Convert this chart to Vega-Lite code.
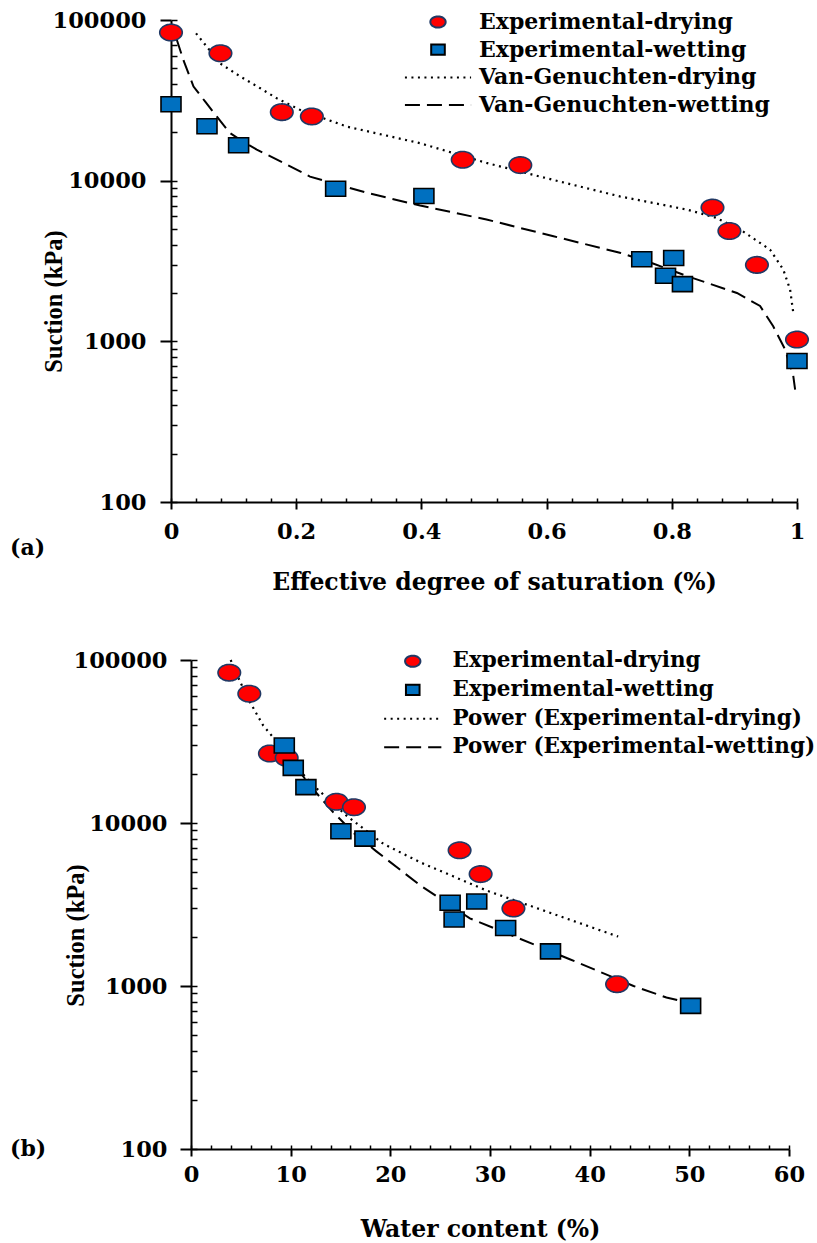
{
  "$schema": "https://vega.github.io/schema/vega-lite/v6.json",
  "background": "white",
  "padding": {"left": 10, "top": 9, "right": 0, "bottom": 0},
  "spacing": 55,
  "config": {
    "view": {"stroke": null},
    "axis": {
      "labelFont": "DejaVu Serif", "labelFontWeight": "bold", "labelFontSize": 22.5, "labelColor": "black",
      "titleFont": "DejaVu Serif", "titleFontWeight": "bold", "titleFontSize": 23.5, "titleColor": "black",
      "domainColor": "black", "domainWidth": 2, "tickColor": "black", "tickWidth": 2, "grid": false,
      "labelFlush": false, "labelOverlap": false
    },
    "legend": {
      "labelFont": "DejaVu Serif", "labelFontWeight": "bold", "labelFontSize": 22, "labelColor": "black",
      "labelLimit": 600, "symbolSize": 150, "symbolStrokeWidth": 2, "padding": 0, "rowPadding": 5.7
    }
  },
  "datasets": {
    "A": [
      {"series": "Experimental-drying", "x": 0, "y": 83600},
      {"series": "Experimental-drying", "x": 0.079, "y": 62100},
      {"series": "Experimental-drying", "x": 0.177, "y": 26700},
      {"series": "Experimental-drying", "x": 0.225, "y": 25100},
      {"series": "Experimental-drying", "x": 0.466, "y": 13500},
      {"series": "Experimental-drying", "x": 0.558, "y": 12500},
      {"series": "Experimental-drying", "x": 0.865, "y": 6800},
      {"series": "Experimental-drying", "x": 0.892, "y": 4860},
      {"series": "Experimental-drying", "x": 0.936, "y": 2990},
      {"series": "Experimental-drying", "x": 1.0, "y": 1026},
      {"series": "Experimental-wetting", "x": 0, "y": 29900},
      {"series": "Experimental-wetting", "x": 0.0575, "y": 21800},
      {"series": "Experimental-wetting", "x": 0.108, "y": 16600},
      {"series": "Experimental-wetting", "x": 0.263, "y": 8900},
      {"series": "Experimental-wetting", "x": 0.404, "y": 8020},
      {"series": "Experimental-wetting", "x": 0.752, "y": 3240},
      {"series": "Experimental-wetting", "x": 0.803, "y": 3300},
      {"series": "Experimental-wetting", "x": 0.79, "y": 2560},
      {"series": "Experimental-wetting", "x": 0.817, "y": 2270},
      {"series": "Experimental-wetting", "x": 1.0, "y": 755},
      {"series": "Van-Genuchten-drying", "x": 0.04, "y": 82600},
      {"series": "Van-Genuchten-drying", "x": 0.058, "y": 67600},
      {"series": "Van-Genuchten-drying", "x": 0.078, "y": 53800},
      {"series": "Van-Genuchten-drying", "x": 0.11, "y": 44700},
      {"series": "Van-Genuchten-drying", "x": 0.142, "y": 37700},
      {"series": "Van-Genuchten-drying", "x": 0.17, "y": 32400},
      {"series": "Van-Genuchten-drying", "x": 0.206, "y": 27600},
      {"series": "Van-Genuchten-drying", "x": 0.281, "y": 21700},
      {"series": "Van-Genuchten-drying", "x": 0.398, "y": 17100},
      {"series": "Van-Genuchten-drying", "x": 0.504, "y": 12900},
      {"series": "Van-Genuchten-drying", "x": 0.611, "y": 10100},
      {"series": "Van-Genuchten-drying", "x": 0.717, "y": 7980},
      {"series": "Van-Genuchten-drying", "x": 0.824, "y": 6610},
      {"series": "Van-Genuchten-drying", "x": 0.87, "y": 5890},
      {"series": "Van-Genuchten-drying", "x": 0.909, "y": 4970},
      {"series": "Van-Genuchten-drying", "x": 0.957, "y": 3720},
      {"series": "Van-Genuchten-drying", "x": 0.978, "y": 2800},
      {"series": "Van-Genuchten-drying", "x": 0.989, "y": 2100},
      {"series": "Van-Genuchten-drying", "x": 0.994, "y": 1510},
      {"series": "Van-Genuchten-wetting", "x": 0.009, "y": 75900},
      {"series": "Van-Genuchten-wetting", "x": 0.02, "y": 56000},
      {"series": "Van-Genuchten-wetting", "x": 0.036, "y": 38500},
      {"series": "Van-Genuchten-wetting", "x": 0.055, "y": 30900},
      {"series": "Van-Genuchten-wetting", "x": 0.073, "y": 25100},
      {"series": "Van-Genuchten-wetting", "x": 0.094, "y": 19800},
      {"series": "Van-Genuchten-wetting", "x": 0.115, "y": 17500},
      {"series": "Van-Genuchten-wetting", "x": 0.137, "y": 15600},
      {"series": "Van-Genuchten-wetting", "x": 0.18, "y": 12900},
      {"series": "Van-Genuchten-wetting", "x": 0.222, "y": 10600},
      {"series": "Van-Genuchten-wetting", "x": 0.313, "y": 8400},
      {"series": "Van-Genuchten-wetting", "x": 0.398, "y": 7000},
      {"series": "Van-Genuchten-wetting", "x": 0.504, "y": 5730},
      {"series": "Van-Genuchten-wetting", "x": 0.611, "y": 4510},
      {"series": "Van-Genuchten-wetting", "x": 0.717, "y": 3560},
      {"series": "Van-Genuchten-wetting", "x": 0.77, "y": 3050},
      {"series": "Van-Genuchten-wetting", "x": 0.824, "y": 2550},
      {"series": "Van-Genuchten-wetting", "x": 0.904, "y": 2000},
      {"series": "Van-Genuchten-wetting", "x": 0.941, "y": 1660},
      {"series": "Van-Genuchten-wetting", "x": 0.962, "y": 1240},
      {"series": "Van-Genuchten-wetting", "x": 0.981, "y": 890},
      {"series": "Van-Genuchten-wetting", "x": 0.994, "y": 610},
      {"series": "Van-Genuchten-wetting", "x": 0.997, "y": 500}
    ],
    "B": [
      {"series": "Experimental-drying", "x": 3.84, "y": 83600},
      {"series": "Experimental-drying", "x": 5.85, "y": 62100},
      {"series": "Experimental-drying", "x": 7.92, "y": 26700},
      {"series": "Experimental-drying", "x": 9.6, "y": 25100},
      {"series": "Experimental-drying", "x": 14.6, "y": 13500},
      {"series": "Experimental-drying", "x": 16.35, "y": 12500},
      {"series": "Experimental-drying", "x": 26.95, "y": 6800},
      {"series": "Experimental-drying", "x": 29.06, "y": 4860},
      {"series": "Experimental-drying", "x": 32.35, "y": 2990},
      {"series": "Experimental-drying", "x": 42.75, "y": 1026},
      {"series": "Experimental-wetting", "x": 9.36, "y": 29900},
      {"series": "Experimental-wetting", "x": 10.26, "y": 21800},
      {"series": "Experimental-wetting", "x": 11.53, "y": 16600},
      {"series": "Experimental-wetting", "x": 15.04, "y": 8900},
      {"series": "Experimental-wetting", "x": 17.45, "y": 8020},
      {"series": "Experimental-wetting", "x": 26.0, "y": 3240},
      {"series": "Experimental-wetting", "x": 28.67, "y": 3300},
      {"series": "Experimental-wetting", "x": 26.4, "y": 2560},
      {"series": "Experimental-wetting", "x": 31.57, "y": 2270},
      {"series": "Experimental-wetting", "x": 36.07, "y": 1630},
      {"series": "Experimental-wetting", "x": 50.13, "y": 755},
      {"series": "Power (Experimental-drying)", "x": 3.98, "y": 100000},
      {"series": "Power (Experimental-drying)", "x": 5.0, "y": 72000},
      {"series": "Power (Experimental-drying)", "x": 5.92, "y": 55100},
      {"series": "Power (Experimental-drying)", "x": 7.25, "y": 39600},
      {"series": "Power (Experimental-drying)", "x": 8.93, "y": 29900},
      {"series": "Power (Experimental-drying)", "x": 10.5, "y": 22400},
      {"series": "Power (Experimental-drying)", "x": 12.27, "y": 17000},
      {"series": "Power (Experimental-drying)", "x": 15.6, "y": 11100},
      {"series": "Power (Experimental-drying)", "x": 19.3, "y": 7450},
      {"series": "Power (Experimental-drying)", "x": 22.97, "y": 5750},
      {"series": "Power (Experimental-drying)", "x": 26.3, "y": 4710},
      {"series": "Power (Experimental-drying)", "x": 29.66, "y": 3850},
      {"series": "Power (Experimental-drying)", "x": 36.34, "y": 2770},
      {"series": "Power (Experimental-drying)", "x": 42.86, "y": 2010},
      {"series": "Power (Experimental-wetting)", "x": 9.3, "y": 28500},
      {"series": "Power (Experimental-wetting)", "x": 9.93, "y": 24800},
      {"series": "Power (Experimental-wetting)", "x": 12.0, "y": 16800},
      {"series": "Power (Experimental-wetting)", "x": 14.27, "y": 11640},
      {"series": "Power (Experimental-wetting)", "x": 16.4, "y": 8600},
      {"series": "Power (Experimental-wetting)", "x": 18.6, "y": 6700},
      {"series": "Power (Experimental-wetting)", "x": 23.0, "y": 4140},
      {"series": "Power (Experimental-wetting)", "x": 27.98, "y": 2600},
      {"series": "Power (Experimental-wetting)", "x": 33.0, "y": 1950},
      {"series": "Power (Experimental-wetting)", "x": 38.0, "y": 1460},
      {"series": "Power (Experimental-wetting)", "x": 42.36, "y": 1130},
      {"series": "Power (Experimental-wetting)", "x": 44.4, "y": 1000},
      {"series": "Power (Experimental-wetting)", "x": 47.7, "y": 850},
      {"series": "Power (Experimental-wetting)", "x": 50.07, "y": 785}
    ]
  },
  "resolve": {
    "scale": {"shape": "independent", "fill": "independent", "stroke": "independent", "strokeDash": "independent"},
    "legend": {"shape": "independent", "fill": "independent", "stroke": "independent", "strokeDash": "independent"}
  },
  "vconcat": [
    {
      "width": 606,
      "height": 482,
      "data": {"name": "A"},
      "resolve": {"axis": {"x": "independent", "y": "independent"}},
      "layer": [
        {
          "transform": [{"filter": {"field": "series", "equal": "Van-Genuchten-drying"}}],
          "mark": {"type": "line", "stroke": "black", "strokeWidth": 2.2, "strokeDash": [2, 4.5]},
          "encoding": {
            "x": {"field": "x", "type": "quantitative", "scale": {"domain": [0, 1], "range": [-20, 606], "nice": false, "zero": false},
              "axis": {"orient": "bottom", "values": [0,0.04,0.08,0.12,0.16,0.2,0.24,0.28,0.32,0.36,0.4,0.44,0.48,0.52,0.56,0.6,0.64,0.68,0.72,0.76,0.8,0.84,0.88,0.92,0.96,1], "tickSize": -4, "tickWidth": 1.5, "labels": false, "domain": false, "title": null}},
            "y": {"field": "y", "type": "quantitative", "scale": {"type": "log", "domain": [100, 100000], "nice": false},
              "axis": {"orient": "left", "offset": 20, "values": [100,200,300,400,500,600,700,800,900,1000,2000,3000,4000,5000,6000,7000,8000,9000,10000,20000,30000,40000,50000,60000,70000,80000,90000,100000], "tickSize": -6, "tickWidth": 1.5, "labels": false, "domain": false, "title": null}}
          }
        },
        {
          "transform": [{"filter": {"field": "series", "equal": "Van-Genuchten-wetting"}}],
          "mark": {"type": "line", "stroke": "black", "strokeWidth": 2, "strokeDash": [15, 7]},
          "encoding": {
            "x": {"field": "x", "type": "quantitative", "scale": {"domain": [0, 1], "range": [-20, 606], "nice": false, "zero": false}, "axis": null},
            "y": {"field": "y", "type": "quantitative", "scale": {"type": "log", "domain": [100, 100000], "nice": false}, "axis": null}
          }
        },
        {
          "transform": [{"filter": {"field": "series", "oneOf": ["Experimental-drying", "Experimental-wetting"]}}],
          "mark": {"type": "point", "size": 324, "opacity": 1, "fillOpacity": 1, "strokeWidth": 1.6},
          "encoding": {
            "x": {"field": "x", "type": "quantitative", "scale": {"domain": [0, 1], "range": [-20, 606], "nice": false, "zero": false},
              "axis": {"orient": "bottom", "values": [0, 0.2, 0.4, 0.6, 0.8, 1], "format": "~g", "tickSize": 7, "labelPadding": 11, "title": "Effective degree of saturation (%)", "titlePadding": 28, "titleX": 303}},
            "y": {"field": "y", "type": "quantitative", "scale": {"type": "log", "domain": [100, 100000], "nice": false},
              "axis": {"orient": "left", "offset": 20, "values": [100, 1000, 10000, 100000], "format": "d", "tickSize": 11, "labelPadding": 14, "title": "Suction (kPa)", "titleFont": "Liberation Serif", "titleFontSize": 24.5, "titleX": -105, "titleY": 281}},
            "shape": {"field": "series", "type": "nominal",
              "scale": {"domain": ["Experimental-drying", "Experimental-wetting", "Van-Genuchten-drying", "Van-Genuchten-wetting"],
                "range": ["M-1.25,0A1.25,0.917,0,1,1,1.25,0A1.25,0.917,0,1,1,-1.25,0Z", "M-1.111,-0.833L1.111,-0.833L1.111,0.833L-1.111,0.833Z", "M-5.4,0L5.4,0", "M-5.4,0L5.4,0"]},
              "legend": {"title": null, "orient": "none", "legendX": 236, "legendY": -9, "labelOffset": 30}},
            "fill": {"field": "series", "type": "nominal",
              "scale": {"domain": ["Experimental-drying", "Experimental-wetting", "Van-Genuchten-drying", "Van-Genuchten-wetting"],
                "range": ["#ff0000", "#0070c0", "rgba(0,0,0,0)", "rgba(0,0,0,0)"]},
              "legend": {"title": null, "orient": "none", "legendX": 236, "legendY": -9, "labelOffset": 30}},
            "stroke": {"field": "series", "type": "nominal",
              "scale": {"domain": ["Experimental-drying", "Experimental-wetting", "Van-Genuchten-drying", "Van-Genuchten-wetting"],
                "range": ["#203864", "#000000", "#000000", "#000000"]},
              "legend": {"title": null, "orient": "none", "legendX": 236, "legendY": -9, "labelOffset": 30}},
            "strokeDash": {"field": "series", "type": "nominal",
              "scale": {"domain": ["Experimental-drying", "Experimental-wetting", "Van-Genuchten-drying", "Van-Genuchten-wetting"],
                "range": [[1, 0], [1, 0], [2, 4.5], [15, 7]]},
              "legend": {"title": null, "orient": "none", "legendX": 236, "legendY": -9, "labelOffset": 30}}
          }
        },
        {
          "data": {"values": [{"lab": "(a)", "x": -0.257, "y": 52}]},
          "mark": {"type": "text", "align": "left", "baseline": "middle", "font": "DejaVu Serif", "fontWeight": "bold", "fontSize": 22, "color": "black"},
          "encoding": {
            "x": {"field": "x", "type": "quantitative", "scale": {"domain": [0, 1], "range": [-20, 606], "nice": false, "zero": false}, "axis": null},
            "y": {"field": "y", "type": "quantitative", "scale": {"type": "log", "domain": [100, 100000], "nice": false}, "axis": null},
            "text": {"field": "lab"}
          }
        }
      ]
    },
    {
      "width": 598,
      "height": 489,
      "data": {"name": "B"},
      "resolve": {"axis": {"x": "independent", "y": "independent"}},
      "layer": [
        {
          "transform": [{"filter": {"field": "series", "equal": "Power (Experimental-drying)"}}],
          "mark": {"type": "line", "stroke": "black", "strokeWidth": 2.2, "strokeDash": [2, 4.5]},
          "encoding": {
            "x": {"field": "x", "type": "quantitative", "scale": {"domain": [0, 60], "nice": false, "zero": false},
              "axis": {"orient": "bottom", "values": [0,2,4,6,8,10,12,14,16,18,20,22,24,26,28,30,32,34,36,38,40,42,44,46,48,50,52,54,56,58,60], "tickSize": -4, "tickWidth": 1.5, "labels": false, "domain": false, "title": null}},
            "y": {"field": "y", "type": "quantitative", "scale": {"type": "log", "domain": [100, 100000], "nice": false},
              "axis": {"orient": "left", "values": [100,200,300,400,500,600,700,800,900,1000,2000,3000,4000,5000,6000,7000,8000,9000,10000,20000,30000,40000,50000,60000,70000,80000,90000,100000], "tickSize": -6, "tickWidth": 1.5, "labels": false, "domain": false, "title": null}}
          }
        },
        {
          "transform": [{"filter": {"field": "series", "equal": "Power (Experimental-wetting)"}}],
          "mark": {"type": "line", "stroke": "black", "strokeWidth": 2, "strokeDash": [15, 7]},
          "encoding": {
            "x": {"field": "x", "type": "quantitative", "scale": {"domain": [0, 60], "nice": false, "zero": false}, "axis": null},
            "y": {"field": "y", "type": "quantitative", "scale": {"type": "log", "domain": [100, 100000], "nice": false}, "axis": null}
          }
        },
        {
          "transform": [{"filter": {"field": "series", "oneOf": ["Experimental-drying", "Experimental-wetting"]}}],
          "mark": {"type": "point", "size": 324, "opacity": 1, "fillOpacity": 1, "strokeWidth": 1.6},
          "encoding": {
            "x": {"field": "x", "type": "quantitative", "scale": {"domain": [0, 60], "nice": false, "zero": false},
              "axis": {"orient": "bottom", "values": [0, 10, 20, 30, 40, 50, 60], "format": "d", "tickSize": 7, "labelPadding": 7.5, "title": "Water content (%)", "titlePadding": 31, "titleX": 289}},
            "y": {"field": "y", "type": "quantitative", "scale": {"type": "log", "domain": [100, 100000], "nice": false},
              "axis": {"orient": "left", "values": [100, 1000, 10000, 100000], "format": "d", "tickSize": 11, "labelPadding": 13, "title": "Suction (kPa)", "titleFont": "Liberation Serif", "titleFontSize": 24.5, "titleX": -103, "titleY": 275}},
            "shape": {"field": "series", "type": "nominal",
              "scale": {"domain": ["Experimental-drying", "Experimental-wetting", "Power (Experimental-drying)", "Power (Experimental-wetting)"],
                "range": ["M-1.25,0A1.25,0.917,0,1,1,1.25,0A1.25,0.917,0,1,1,-1.25,0Z", "M-1.111,-0.833L1.111,-0.833L1.111,0.833L-1.111,0.833Z", "M-4.67,0L4.67,0", "M-4.67,0L4.67,0"]},
              "legend": {"title": null, "orient": "none", "legendX": 211, "legendY": -9.5, "labelOffset": 29, "labelFontSize": 21.5}},
            "fill": {"field": "series", "type": "nominal",
              "scale": {"domain": ["Experimental-drying", "Experimental-wetting", "Power (Experimental-drying)", "Power (Experimental-wetting)"],
                "range": ["#ff0000", "#0070c0", "rgba(0,0,0,0)", "rgba(0,0,0,0)"]},
              "legend": {"title": null, "orient": "none", "legendX": 211, "legendY": -9.5, "labelOffset": 29, "labelFontSize": 21.5}},
            "stroke": {"field": "series", "type": "nominal",
              "scale": {"domain": ["Experimental-drying", "Experimental-wetting", "Power (Experimental-drying)", "Power (Experimental-wetting)"],
                "range": ["#203864", "#000000", "#000000", "#000000"]},
              "legend": {"title": null, "orient": "none", "legendX": 211, "legendY": -9.5, "labelOffset": 29, "labelFontSize": 21.5}},
            "strokeDash": {"field": "series", "type": "nominal",
              "scale": {"domain": ["Experimental-drying", "Experimental-wetting", "Power (Experimental-drying)", "Power (Experimental-wetting)"],
                "range": [[1, 0], [1, 0], [2, 4.5], [15, 7]]},
              "legend": {"title": null, "orient": "none", "legendX": 211, "legendY": -9.5, "labelOffset": 29, "labelFontSize": 21.5}}
          }
        },
        {
          "data": {"values": [{"lab": "(b)", "x": -18.16, "y": 100}]},
          "mark": {"type": "text", "align": "left", "baseline": "middle", "font": "DejaVu Serif", "fontWeight": "bold", "fontSize": 22, "color": "black"},
          "encoding": {
            "x": {"field": "x", "type": "quantitative", "scale": {"domain": [0, 60], "nice": false, "zero": false}, "axis": null},
            "y": {"field": "y", "type": "quantitative", "scale": {"type": "log", "domain": [100, 100000], "nice": false}, "axis": null},
            "text": {"field": "lab"}
          }
        }
      ]
    }
  ]
}
